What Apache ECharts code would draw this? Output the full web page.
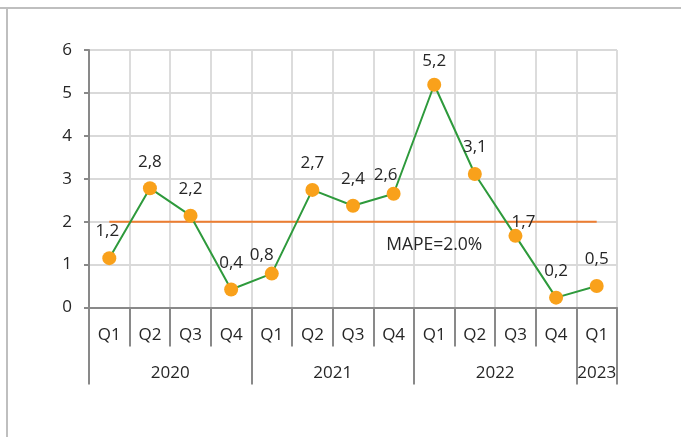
<!DOCTYPE html>
<html>
<head>
<meta charset="utf-8">
<script src="https://cdn.jsdelivr.net/npm/echarts@6/dist/echarts.min.js"></script>
<style>
html,body{margin:0;padding:0;background:#fff;}
#frameTop{position:absolute;left:0;top:7px;width:681px;height:2px;background:#BFBFBF;}
#frameLeft{position:absolute;left:6px;top:9px;width:2px;height:428px;background:#BFBFBF;}
#chart{position:absolute;left:0;top:0;width:681px;height:437px;}
</style>
</head>
<body>
<div id="chart"></div>
<div id="frameTop"></div>
<div id="frameLeft"></div>
<script>
// ---- data ----
const quarters = ['Q1','Q2','Q3','Q4','Q1','Q2','Q3','Q4','Q1','Q2','Q3','Q4','Q1'];
const years = ['2020','2021','2022','2023'];
const quartersPerYear = [4, 4, 4, 1];
const values = [1.15, 2.78, 2.14, 0.42, 0.79, 2.74, 2.37, 2.65, 5.19, 3.11, 1.67, 0.23, 0.50];
const valueLabels = ['1,2','2,8','2,2','0,4','0,8','2,7','2,4','2,6','5,2','3,1','1,7','0,2','0,5'];
const mape = 2.0;
const mapeText = 'MAPE=2.0%';
const yTicks = [0, 1, 2, 3, 4, 5, 6];

// ---- label nudges (style only) ----
const labelShift = {0:[-2,0], 4:[-10,8], 7:[-8,8], 8:[0,3], 10:[8,13]};

const FONT = 'Open Sans';
const TXT = '#262626';

// year axis built on half-quarter points (boundaryGap false)
const halfCount = quarters.length * 2 + 1;
const yearAxisData = new Array(halfCount).fill('');
const yearTickIdx = [0];
let acc = 0;
quartersPerYear.forEach((n, i) => {
  yearAxisData[acc * 2 + n] = years[i];
  acc += n;
  yearTickIdx.push(acc * 2);
});

const seriesData = values.map((v, i) => {
  const o = { value: v, label: { formatter: valueLabels[i] } };
  if (labelShift[i]) o.label.offset = [labelShift[i][0], labelShift[i][1]];
  return o;
});

const chart = echarts.init(document.getElementById('chart'), null, {renderer:'canvas'});
chart.setOption({
  animation: false,
  textStyle: { fontFamily: FONT },
  grid: { left: 89, top: 50, right: 64, bottom: 129.5, containLabel: false },
  xAxis: [
    {
      type: 'category',
      data: quarters,
      boundaryGap: true,
      axisLine: { show: true, lineStyle: { color: '#898989', width: 2 } },
      axisTick: { show: true, interval: 0, length: 39, lineStyle: { color: '#898989', width: 2 } },
      axisLabel: { interval: 0, margin: 19, fontSize: 17, color: TXT, fontFamily: FONT },
      splitLine: { show: true, interval: 0, lineStyle: { color: '#D9D9D9', width: 1.8 } }
    },
    {
      type: 'category',
      data: yearAxisData,
      boundaryGap: false,
      position: 'bottom',
      axisLine: { show: false },
      axisTick: { show: true, length: 77, interval: (idx) => yearTickIdx.includes(idx), lineStyle: { color: '#898989', width: 2 } },
      axisLabel: { interval: 0, margin: 57, fontSize: 17, color: TXT, fontFamily: FONT },
      splitLine: { show: false }
    }
  ],
  yAxis: {
    type: 'value',
    min: yTicks[0],
    max: yTicks[yTicks.length - 1],
    interval: 1,
    axisLine: { show: true, lineStyle: { color: '#898989', width: 2 } },
    axisTick: { show: true, length: 5, lineStyle: { color: '#898989', width: 2 } },
    axisLabel: { margin: 17, fontSize: 17, color: TXT, fontFamily: FONT },
    splitLine: { show: true, lineStyle: { color: '#D9D9D9', width: 1.8 } }
  },
  series: [
    {
      type: 'line',
      data: quarters.map(() => mape),
      xAxisIndex: 0,
      showSymbol: false,
      symbol: 'none',
      lineStyle: { color: '#ED7D31', width: 2 },
      z: 2,
      markPoint: {
        symbol: 'circle',
        symbolSize: 0,
        data: [{ coord: [8, 1.46], value: 0 }],
        label: { show: true, position: 'inside', formatter: mapeText, fontSize: 17.5, color: TXT, fontFamily: FONT }
      }
    },
    {
      type: 'line',
      data: seriesData,
      xAxisIndex: 0,
      symbol: 'circle',
      symbolSize: 14,
      itemStyle: { color: '#F9A11B', borderWidth: 0 },
      lineStyle: { color: '#2E9A3C', width: 2 },
      label: { show: true, position: 'top', distance: 11, fontSize: 17, color: TXT, fontFamily: FONT },
      z: 3
    }
  ]
});
</script>
</body>
</html>
